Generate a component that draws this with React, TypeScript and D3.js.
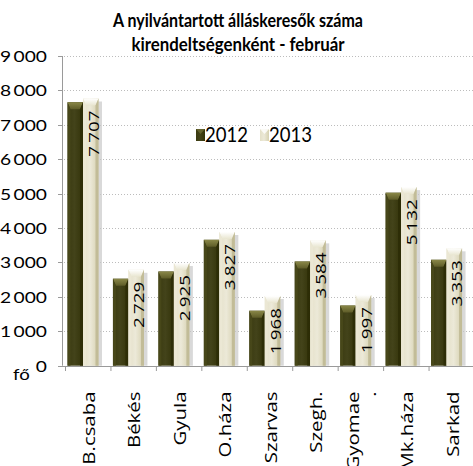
import React from 'react';
import * as d3 from 'd3';

const titleLines = ['A nyilvántartott álláskeresők száma', 'kirendeltségenként - február'];
const categories = ['B.csaba', 'Békés', 'Gyula', 'O.háza', 'Szarvas', 'Szegh.', 'Gyomae\n.', 'Mk.háza', 'Sarkad'];
const seriesNames = ['2012', '2013'];
const values2012 = [7600, 2470, 2680, 3600, 1540, 2970, 1690, 4970, 3020];
const values2013 = [7707, 2729, 2925, 3827, 1968, 3584, 1997, 5132, 3353];
const yTicks = [0, 1000, 2000, 3000, 4000, 5000, 6000, 7000, 8000, 9000];
const unitLabel = 'fő';

const W = 473;
const H = 466;

const fmt = (v: number) => d3.format(',')(v).replace(/,/g, '\u2009');

function Bar({ x, w, yTop, yBot, dark, id }: { x: number; w: number; yTop: number; yBot: number; dark: boolean; id: string }) {
  const b = Math.min(7, (yBot - yTop) / 2);
  const side = 3;
  return (
    <g>
      {!dark && (
        <rect x={x + 2} y={yTop + 3} width={w + 1.5} height={yBot - yTop - 3} fill="#c9c9c9" opacity={0.7} />
      )}
      <rect x={x} y={yTop} width={w} height={yBot - yTop} fill={`url(#body-${id})`} />
      <polygon
        points={`${x},${yTop} ${x + w},${yTop} ${x + w - side},${yTop + b} ${x + side},${yTop + b}`}
        fill={`url(#top-${id})`}
      />
      <polygon
        points={`${x},${yTop} ${x + side},${yTop + b} ${x + side},${yBot} ${x},${yBot}`}
        fill={dark ? '#4a4a1c' : '#ece9d6'}
        opacity={0.8}
      />
      <polygon
        points={`${x + w},${yTop} ${x + w - side},${yTop + b} ${x + w - side},${yBot} ${x + w},${yBot}`}
        fill={dark ? '#2c2c06' : '#bdb792'}
        opacity={0.85}
      />
    </g>
  );
}

export default function App() {
  const x = d3.scaleBand<string>().domain(categories).range([65, 474]).padding(0);
  const xSub = d3.scaleBand<string>().domain(seriesNames).range([2.5, 33.5]).padding(0);
  const y = d3.scaleLinear().domain([0, 9000]).range([365.7, 56]);
  const bw = xSub.bandwidth();

  return (
    <svg width={W} height={H} style={{ position: 'absolute', left: 0, top: 0, background: '#fff' }}>
      <defs>
        <linearGradient id="body-d" x1="0" x2="1" y1="0" y2="0">
          <stop offset="0" stopColor="#3a3a10" />
          <stop offset="0.45" stopColor="#43431a" />
          <stop offset="1" stopColor="#333309" />
        </linearGradient>
        <linearGradient id="top-d" x1="0" x2="0" y1="0" y2="1">
          <stop offset="0" stopColor="#8a8848" />
          <stop offset="1" stopColor="#5e5c28" />
        </linearGradient>
        <linearGradient id="body-l" x1="0" x2="1" y1="0" y2="0">
          <stop offset="0" stopColor="#e4e0c8" />
          <stop offset="0.45" stopColor="#ece9d8" />
          <stop offset="1" stopColor="#d6d1b0" />
        </linearGradient>
        <linearGradient id="top-l" x1="0" x2="0" y1="0" y2="1">
          <stop offset="0" stopColor="#ffffff" />
          <stop offset="1" stopColor="#e8e5cf" />
        </linearGradient>
      </defs>

      {yTicks.filter((t) => t > 0).map((t) => (
        <line key={t} x1={64} x2={W} y1={Math.round(y(t)) + 0.5} y2={Math.round(y(t)) + 0.5} stroke="#bcbcbc" strokeDasharray="1,2" />
      ))}

      {titleLines.map((t, i) => (
        <text
          key={t}
          x={238}
          y={27 + i * 23.5}
          textAnchor="middle"
          fontFamily="Lato"
          fontWeight="bold"
          fontSize={19}
          textLength={i === 0 ? 250 : 213}
          lengthAdjust="spacingAndGlyphs"
          fill="#000"
        >
          {t}
        </text>
      ))}

      {categories.map((c, i) => {
        const x0 = x(c)!;
        return (
          <g key={c}>
            <Bar id="d" dark x={x0 + xSub('2012')!} w={bw} yTop={y(values2012[i]) - 2} yBot={y(0)} />
            <Bar id="l" dark={false} x={x0 + xSub('2013')!} w={bw} yTop={y(values2013[i]) - 2} yBot={y(0)} />
          </g>
        );
      })}

      {categories.map((c, i) => {
        const cx = x(c)! + xSub('2013')! + bw / 2 + 2.5;
        const ty = y(values2013[i]) + 10;
        return (
          <text
            key={c}
            transform={`translate(${cx},${ty}) rotate(-90) scale(1.3,1)`}
            textAnchor="end"
            dominantBaseline="central"
            fontFamily="Open Sans"
            fontSize={14.5}
            fill="#000"
          >
            {fmt(values2013[i])}
          </text>
        );
      })}

      <line x1={62.5} x2={62.5} y1={y(9000)} y2={y(0)} stroke="#9a9a9a" />
      {yTicks.map((t) => (
        <g key={t}>
          <line x1={58} x2={62.5} y1={Math.round(y(t)) + 0.5} y2={Math.round(y(t)) + 0.5} stroke="#9a9a9a" />
          <text
            transform={`translate(47,${y(t)}) scale(1.2,1)`}
            textAnchor="end"
            dominantBaseline="central"
            fontFamily="Lato"
            fontSize={16}
            fill="#000"
          >
            {fmt(t)}
          </text>
        </g>
      ))}
      <text transform="translate(13,380) scale(1.2,1)" fontFamily="Lato" fontSize={15.5} fill="#000">
        {unitLabel}
      </text>

      <line x1={58} x2={W} y1={366.5} y2={366.5} stroke="#9a9a9a" />
      {categories.map((c) => (
        <line key={c} x1={x(c)! + 0.5} x2={x(c)! + 0.5} y1={366.5} y2={371} stroke="#9a9a9a" />
      ))}
      {categories.map((c) => {
        const lines = c.split('\n');
        const cx = x(c)! + x.bandwidth() / 2;
        return (
          <text
            key={c}
            transform={`translate(${cx - ((lines.length - 1) * 17) / 2},391.5) rotate(-90) scale(1.2,1)`}
            textAnchor="end"
            dominantBaseline="central"
            fontFamily="Open Sans"
            fontSize={17}
            fill="#000"
          >
            {lines.map((l, j) => (
              <tspan key={j} x={0} dy={j === 0 ? 0 : 17}>
                {l}
              </tspan>
            ))}
          </text>
        );
      })}

      {seriesNames.map((s, i) => {
        const lx = 196 + i * 64;
        return (
          <g key={s}>
            <rect x={lx} y={129} width={9} height={12} fill={i === 0 ? 'url(#body-d)' : 'url(#body-l)'} />
            <polygon
              points={`${lx},129 ${lx + 9},129 ${lx + 4.5},134`}
              fill={i === 0 ? '#6d6b35' : '#ffffff'}
              opacity={0.8}
            />
            <text x={lx + 9} y={142} fontFamily="Lato" fontSize={20.5} textLength={43} lengthAdjust="spacingAndGlyphs" fill="#000">
              {s}
            </text>
          </g>
        );
      })}
    </svg>
  );
}
